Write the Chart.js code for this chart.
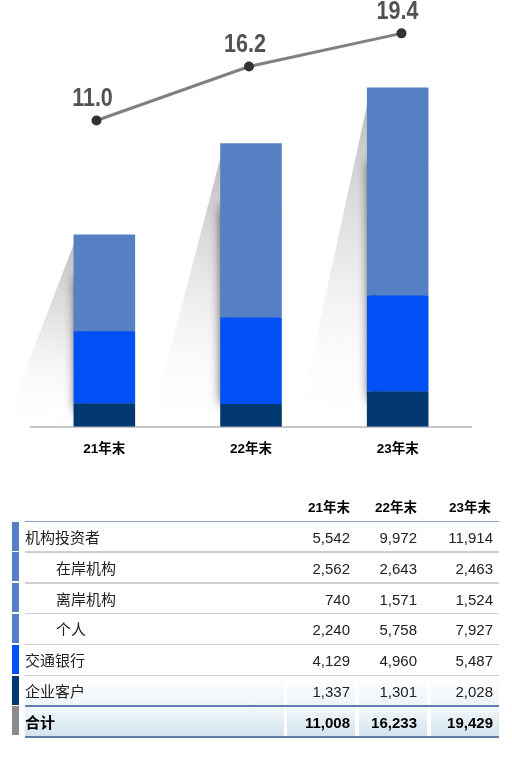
<!DOCTYPE html>
<html>
<head>
<meta charset="utf-8">
<script src="https://cdn.jsdelivr.net/npm/chart.js@4.4.1/dist/chart.umd.min.js"></script>
<style>
  html, body { margin: 0; padding: 0; background: #fff; }
  body { width: 512px; height: 765px; position: relative; overflow: hidden;
         font-family: "Liberation Sans", "Noto Sans CJK SC", sans-serif; color: #1e1e1e; }
  #wrap { position: absolute; left: 0; top: 0; width: 512px; height: 471px; }
  #tbl { position: absolute; left: 0; top: 0; width: 512px; height: 765px; }
  .c { position: absolute; white-space: nowrap; }
</style>
</head>
<body>
<div id="wrap"><canvas id="chart" width="512" height="471"></canvas></div>
<div id="tbl"></div>
<script>
// ---- data ----
const categories = ['21年末', '22年末', '23年末'];
const institutional = [5542, 9972, 11914];   // 机构投资者
const onshore = [2562, 2643, 2463];          // 在岸机构
const offshore = [740, 1571, 1524];          // 离岸机构
const individual = [2240, 5758, 7927];       // 个人
const bocom = [4129, 4960, 5487];            // 交通银行
const corporate = [1337, 1301, 2028];        // 企业客户
const totals = [11008, 16233, 19429];        // 合计
const lineValues = [11.0, 16.2, 19.4];

const C_INST = '#5580c4';
const C_BANK = '#0050f5';
const C_CORP = '#00386f';
const CJK = '"Liberation Sans", "Noto Sans CJK SC", sans-serif';

// gray perspective shadow behind each bar
const barShadow = {
  id: 'barShadow',
  beforeDatasetsDraw(chart) {
    const ctx = chart.ctx;
    const base = chart.scales.y.getPixelForValue(0);
    const tops = chart.getDatasetMeta(2).data;
    tops.forEach(el => {
      const left = el.x - el.width / 2;
      const top = el.y;
      const h = base - top;
      ctx.save();
      const g = ctx.createLinearGradient(left, top, left - 45, base);
      g.addColorStop(0, 'rgba(165,165,165,0.8)');
      g.addColorStop(0.5, 'rgba(200,200,200,0.4)');
      g.addColorStop(1, 'rgba(255,255,255,0)');
      ctx.fillStyle = g;
      ctx.beginPath();
      ctx.moveTo(left + 4, top);
      ctx.lineTo(left + 4, base);
      ctx.lineTo(left - 70, base);
      ctx.closePath();
      ctx.fill();
      ctx.shadowColor = 'rgba(0,0,0,0.85)';
      ctx.shadowBlur = 11;
      ctx.shadowOffsetX = -8;
      ctx.fillStyle = C_INST;
      ctx.fillRect(left + 10, top + h * 0.22, el.width - 12, h * 0.7);
      ctx.restore();
    });
  }
};

// value labels over the line points
const lineLabels = {
  id: 'lineLabels',
  afterDatasetsDraw(chart) {
    const ctx = chart.ctx;
    const meta = chart.getDatasetMeta(3);
    meta.data.forEach((pt, i) => {
      ctx.save();
      ctx.translate(pt.x - 4, pt.y - 21);
      ctx.scale(0.86, 1);
      ctx.font = 'bold 25px "Liberation Sans", sans-serif';
      ctx.fillStyle = '#525252';
      ctx.textAlign = 'center';
      ctx.textBaseline = 'middle';
      ctx.fillText(lineValues[i].toFixed(1), 0, 0);
      ctx.restore();
    });
  }
};

new Chart(document.getElementById('chart'), {
  type: 'bar',
  data: {
    labels: categories,
    datasets: [
      { label: '企业客户', data: corporate, backgroundColor: C_CORP, order: 1, stack: 's', grouped: false },
      { label: '交通银行', data: bocom, backgroundColor: C_BANK, order: 1, stack: 's', grouped: false },
      { label: '机构投资者', data: institutional, backgroundColor: C_INST, order: 1, stack: 's', grouped: false },
      {
        type: 'line', label: '合计', order: 0,
        data: lineValues.map((v, i) => ({ x: i, y: v })),
        xAxisID: 'x2', yAxisID: 'y1',
        borderColor: '#808080', borderWidth: 3,
        pointBackgroundColor: '#333333', pointBorderColor: '#333333',
        pointRadius: 3.5, tension: 0
      }
    ]
  },
  options: {
    responsive: false,
    animation: false,
    layout: { padding: { left: 31, right: 41, top: 10, bottom: 0 } },
    plugins: { legend: { display: false }, tooltip: { enabled: false } },
    datasets: { bar: { categoryPercentage: 1, barPercentage: 0.42 } },
    scales: {
      x: {
        stacked: true,
        grid: { display: false, drawTicks: false },
        border: { display: true, color: '#c8c8c8', width: 2 },
        ticks: { color: '#000', padding: 14, font: { family: CJK, size: 13.5, weight: 'bold' } }
      },
      y: { stacked: true, display: false, min: 0, max: 23870 },
      x2: { type: 'linear', display: false, offset: false, min: -0.4295, max: 2.4557 },
      y1: { display: false, min: -18.51, max: 21.65 }
    }
  },
  plugins: [barShadow, lineLabels]
});

// ---- table ----
const fmt = v => v.toLocaleString('en-US');
const tbl = document.getElementById('tbl');
function box(css, text) {
  const d = document.createElement('div');
  d.className = 'c';
  if (text !== undefined) d.textContent = text;
  Object.assign(d.style, css);
  tbl.appendChild(d);
  return d;
}

const rows = [
  { label: '机构投资者', vals: institutional, indent: false, marker: C_INST },
  { label: '在岸机构', vals: onshore, indent: true, marker: C_INST },
  { label: '离岸机构', vals: offshore, indent: true, marker: C_INST },
  { label: '个人', vals: individual, indent: true, marker: C_INST },
  { label: '交通银行', vals: bocom, indent: false, marker: C_BANK },
  { label: '企业客户', vals: corporate, indent: false, marker: C_CORP, bg: 'linear-gradient(#ffffff, #edf3f8)' },
  { label: '合计', vals: totals, indent: false, marker: '#8c8c8c', bold: true, bg: 'linear-gradient(#f3f8fb, #d2e3ee)' }
];

const colRight = [350, 417, 493];
const cellSpans = [[25, 284], [287, 355], [359, 427], [431, 499]];
const rowTop0 = 522, rowH = 30.8;

categories.forEach((c, j) => {
  box({ right: (512 - colRight[j] + (j === 2 ? 2 : 0)) + 'px', top: '499px', lineHeight: '18px',
        fontSize: '13.5px', fontWeight: 'bold', color: '#000' }, c);
});
box({ left: '25px', width: '474px', top: '520.5px', height: '1.5px', background: '#8a9dc0' });

rows.forEach((r, i) => {
  const top = rowTop0 + i * rowH;
  if (r.bg) {
    cellSpans.forEach(s => box({ left: s[0] + 'px', width: (s[1] - s[0]) + 'px',
      top: (top + 0.5) + 'px', height: (rowH - 1.5) + 'px', background: r.bg }));
  }
  box({ left: '12px', width: '7px', top: (top - 0.5) + 'px', height: (rowH - 1.8) + 'px', background: r.marker });
  const lineColor = (i >= 5) ? '#5f7eab' : '#cfcfcf';
  box({ left: '25px', width: '474px', top: (top + rowH - 1.5) + 'px', height: '1.5px', background: lineColor });
  const font = { fontSize: '15px', fontWeight: r.bold ? 'bold' : 'normal', color: r.bold ? '#000' : '#222',
                 lineHeight: rowH + 'px', top: (top + 1) + 'px' };
  box(Object.assign({ left: (r.indent ? 56 : 25) + 'px' }, font), r.label);
  r.vals.forEach((v, j) => {
    box(Object.assign({ right: (512 - colRight[j]) + 'px' }, font), fmt(v));
  });
});
</script>
</body>
</html>
